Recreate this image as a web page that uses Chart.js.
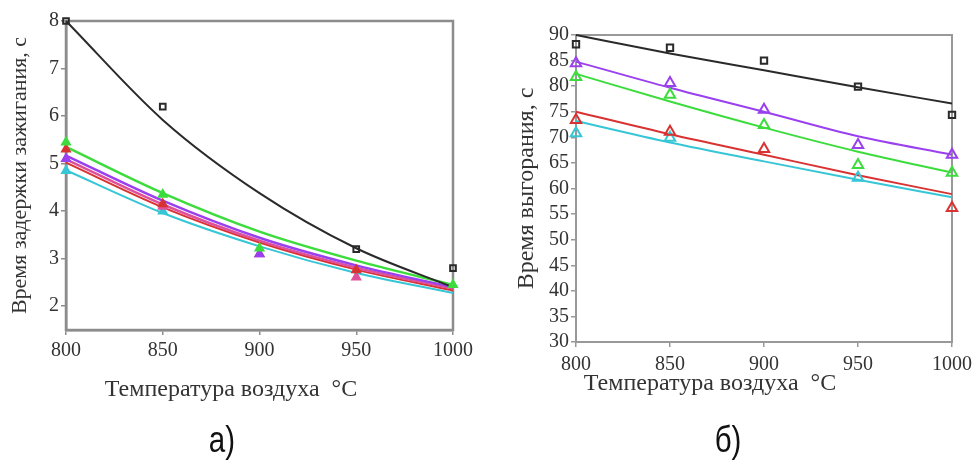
<!DOCTYPE html>
<html>
<head>
<meta charset="utf-8">
<script src="https://cdn.jsdelivr.net/npm/chart.js@4"></script>
<style>
  html, body { margin: 0; padding: 0; background: #fff; width: 980px; height: 466px; overflow: hidden; }
  .wrap { position: absolute; top: 0; }
  .xt { position: absolute; font-family: 'Liberation Serif', serif; font-size: 24px; color: #333;
        white-space: nowrap; transform: translate(-50%, -50%); }
  .cap { position: absolute; font-family: 'Liberation Sans Narrow', 'Liberation Sans', sans-serif;
         font-size: 36px; color: #111; transform: translate(-50%, -50%) scaleX(0.82); }
</style>
</head>
<body>
<div class="wrap" style="left:0;"><canvas id="chartA" width="480" height="420"></canvas></div>
<div class="wrap" style="left:490px;"><canvas id="chartB" width="490" height="420"></canvas></div>
<div class="xt" style="left:231px; top:388px;">Температура воздуха &nbsp;°С</div>
<div class="xt" style="left:710px; top:382px;">Температура воздуха &nbsp;°С</div>
<div class="cap" style="left:222px; top:440px;">а)</div>
<div class="cap" style="left:728px; top:440px;">б)</div>

<script>
// Air temperature, °C
const temps = [800, 850, 900, 950, 1000];

// (а) ignition delay time, s — fitted curves
const fitBlackA  = [8.0, 5.92, 4.38, 3.22, 2.40];
const fitGreenA  = [5.35, 4.38, 3.57, 2.96, 2.45];
const fitPurpleA = [5.17, 4.22, 3.44, 2.86, 2.40];
const fitPinkA   = [5.09, 4.14, 3.38, 2.81, 2.37];
const fitRedA    = [5.02, 4.08, 3.34, 2.77, 2.33];
const fitCyanA   = [4.86, 3.96, 3.26, 2.70, 2.28];
// (а) measured points
const ptBlackA  = [8.0, 6.2, null, 3.2, 2.8];
const ptGreenA  = [5.45, 4.35, 3.22, null, 2.45];
const ptRedA    = [5.3, 4.15, null, 2.76, null];
const ptPurpleA = [5.1, null, 3.1, null, null];
const ptPinkA   = [null, 4.1, 3.1, 2.61, null];
const ptCyanA   = [4.85, 4.0, null, null, null];

// (б) burnout time, s — fitted curves
const fitBlackB  = [90.0, 86.4, 83.1, 79.8, 76.6];
const fitPurpleB = [84.8, 79.7, 75.0, 70.2, 66.6];
const fitGreenB  = [82.4, 77.0, 71.9, 67.2, 63.1];
const fitRedB    = [75.0, 70.6, 66.6, 62.6, 58.9];
const fitCyanB   = [73.2, 69.0, 65.3, 61.7, 58.3];
// (б) measured points
const ptBlackB  = [88.2, 87.5, 85.0, 79.9, 74.4];
const ptPurpleB = [84.5, 80.6, 75.4, 68.5, 66.6];
const ptGreenB  = [81.8, 78.3, 72.4, 64.6, 63.1];
const ptRedB    = [73.4, 71.1, 67.7, null, 56.2];
const ptCyanB   = [70.8, 69.9, null, 62.1, null];

const yTicksA = [2, 3, 4, 5, 6, 7, 8];
const yTicksB = [30, 35, 40, 45, 50, 55, 60, 65, 70, 75, 80, 85, 90];

const COL = {
  black: '#2a2a2a', green: '#3ddc3d', purple: '#9a40ee', pink: '#e0509a',
  red: '#d83232', cyan: '#36c6d6'
};

const pairs = vals => temps.map((t, i) => ({ x: t, y: vals[i] })).filter(p => p.y !== null);

const fitLine = (vals, color, width) => ({
  data: pairs(vals), borderColor: color, borderWidth: width, pointRadius: 0,
  cubicInterpolationMode: 'monotone', fill: false, clip: false, order: 2
});
const marks = (vals, color, style, radius, fillColor, bw) => ({
  data: pairs(vals), showLine: false, pointStyle: style, pointRadius: radius,
  borderColor: color, backgroundColor: fillColor, pointBorderWidth: bw, clip: false, order: 1
});

// grey box around the plotting area
const frame = {
  id: 'frame',
  beforeDatasetsDraw(chart, args, opts) {
    const { ctx, chartArea: a } = chart;
    ctx.save();
    ctx.strokeStyle = opts.color;
    ctx.lineWidth = opts.width;
    ctx.strokeRect(a.left, a.top, a.right - a.left, a.bottom - a.top);
    ctx.restore();
  }
};

const tickFont = { family: 'Liberation Serif', size: 20 };
const plain = v => String(v);

function axes(opts) {
  return {
    x: {
      type: 'linear', min: 800, max: 1000,
      afterBuildTicks: s => { s.ticks = temps.map(v => ({ value: v })); },
      ticks: { font: tickFont, color: '#333', padding: opts.xpad, maxRotation: 0, autoSkip: false, callback: plain },
      grid: { drawOnChartArea: false, tickLength: 5, color: opts.frame, lineWidth: 1.5 },
      border: { color: opts.frame, width: opts.fw },
      afterFit: s => { s.height = opts.xh; }
    },
    y: {
      type: 'linear', min: opts.ymin, max: opts.ymax,
      afterBuildTicks: s => { s.ticks = opts.yticks.map(v => ({ value: v })); },
      ticks: { font: tickFont, color: '#333', padding: 2, autoSkip: false, callback: plain },
      grid: { drawOnChartArea: false, tickLength: 5, color: opts.frame, lineWidth: 1.5 },
      border: { color: opts.frame, width: opts.fw },
      title: { display: true, text: opts.ytitle, font: { family: 'Liberation Serif', size: opts.tsize },
               color: '#333', padding: { top: opts.tpad, bottom: 0 } },
      afterFit: s => { s.width = opts.yw; }
    }
  };
}

const common = {
  type: 'line',
  plugins: [frame]
};

new Chart(document.getElementById('chartA'), {
  ...common,
  data: {
    datasets: [
      fitLine(fitBlackA, COL.black, 2),
      fitLine(fitGreenA, COL.green, 2.5),
      fitLine(fitPurpleA, COL.purple, 2.5),
      fitLine(fitPinkA, COL.pink, 2.5),
      fitLine(fitRedA, COL.red, 2),
      fitLine(fitCyanA, COL.cyan, 2),
      marks(ptBlackA, COL.black, 'rect', 4, 'rgba(255,255,255,0)', 2),
      marks(ptGreenA, COL.green, 'triangle', 5, COL.green, 1.5),
      marks(ptRedA, COL.red, 'triangle', 5, COL.red, 1.5),
      marks(ptPurpleA, COL.purple, 'triangle', 5, COL.purple, 1.5),
      marks(ptPinkA, COL.pink, 'triangle', 5, COL.pink, 1.5),
      marks(ptCyanA, COL.cyan, 'triangle', 5, COL.cyan, 1.5)
    ]
  },
  options: {
    responsive: false, animation: false,
    layout: { padding: { top: 21, right: 27, left: 0, bottom: 0 } },
    plugins: { legend: { display: false }, tooltip: { enabled: false },
               frame: { color: '#8c8c8c', width: 2.5 } },
    scales: axes({ frame: '#8c8c8c', fw: 2.5, xh: 90, yw: 66, ymin: 1.5, ymax: 8, xpad: 4,
                   yticks: yTicksA, ytitle: 'Время задержки зажигания, с', tsize: 22, tpad: 7 })
  }
});

new Chart(document.getElementById('chartB'), {
  ...common,
  data: {
    datasets: [
      fitLine(fitBlackB, COL.black, 2),
      fitLine(fitPurpleB, COL.purple, 2),
      fitLine(fitGreenB, COL.green, 2),
      fitLine(fitRedB, COL.red, 2),
      fitLine(fitCyanB, COL.cyan, 2),
      marks(ptBlackB, COL.black, 'rect', 4.5, 'rgba(255,255,255,0)', 2),
      marks(ptPurpleB, COL.purple, 'triangle', 6, 'rgba(255,255,255,0)', 2),
      marks(ptGreenB, COL.green, 'triangle', 6, 'rgba(255,255,255,0)', 2),
      marks(ptRedB, COL.red, 'triangle', 6, 'rgba(255,255,255,0)', 2),
      marks(ptCyanB, COL.cyan, 'triangle', 6, 'rgba(255,255,255,0)', 2)
    ]
  },
  options: {
    responsive: false, animation: false,
    layout: { padding: { top: 35, right: 28, left: 0, bottom: 0 } },
    plugins: { legend: { display: false }, tooltip: { enabled: false },
               frame: { color: '#999999', width: 2 } },
    scales: axes({ frame: '#999999', fw: 2, xh: 78, yw: 86, ymin: 30, ymax: 90, xpad: 6,
                   yticks: yTicksB, ytitle: 'Время выгорания, с', tsize: 24, tpad: 22 })
  }
});
</script>
</body>
</html>
